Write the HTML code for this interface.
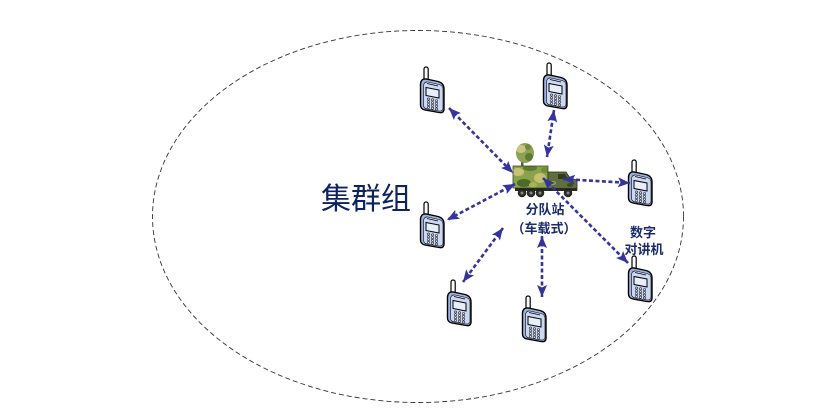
<!DOCTYPE html>
<html>
<head>
<meta charset="utf-8">
<style>
  html, body { margin: 0; padding: 0; background: #ffffff; }
  body { width: 832px; height: 410px; overflow: hidden; }
  svg { display: block; }
  .cjk { font-family: "Liberation Sans", "Noto Sans CJK SC", sans-serif; }
</style>
</head>
<body>
<svg width="832" height="410" viewBox="0 0 832 410" xmlns="http://www.w3.org/2000/svg">
  <defs>
    <marker id="ah" viewBox="0 0 12 10" refX="12" refY="5" markerWidth="12" markerHeight="10" markerUnits="userSpaceOnUse" orient="auto-start-reverse">
      <path d="M0,0 L12,5 L0,10 L2.5,5 Z" fill="#34349c"/>
    </marker>

    <symbol id="ph" viewBox="0 0 28 48">
      <rect x="6" y="1" width="4.2" height="15" rx="2" fill="#ffffff" stroke="#000" stroke-width="1.2"/>
      <path d="M2.5,19 Q2.5,12.5 8,13 L20,15.5 Q26,17 26,23 L26,43 Q26,47.5 21,46.5 L7,44 Q2.5,43 2.5,39 Z" fill="#9fb4e0" stroke="#000" stroke-width="1.4"/>
      <path d="M5.5,19.5 Q6,15.5 10,16 L21,18.5 Q25,19.5 25,23.5 L25,42 Q25,45.5 21,45 L9.5,43 Q5.5,42.5 5.5,39 Z" fill="#cbd8f3" stroke="#000" stroke-width="0.6"/>
      <path d="M9,17.5 L20,20" stroke="#000" stroke-width="0.7"/>
      <path d="M8,21.5 L21,24 L21,32 L8,29.5 Z" fill="#e8eef9" stroke="#000" stroke-width="1"/>
      <g fill="#dfe6f5" stroke="#222" stroke-width="0.6">
        <circle cx="10.5" cy="33" r="1.1"/><circle cx="14.5" cy="33.8" r="1.1"/><circle cx="18.5" cy="34.6" r="1.1"/>
        <circle cx="10.5" cy="35.8" r="1.1"/><circle cx="14.5" cy="36.6" r="1.1"/><circle cx="18.5" cy="37.4" r="1.1"/>
        <circle cx="10.5" cy="38.6" r="1.1"/><circle cx="14.5" cy="39.4" r="1.1"/><circle cx="18.5" cy="40.2" r="1.1"/>
        <circle cx="10.5" cy="41.4" r="1.1"/><circle cx="14.5" cy="42.2" r="1.1"/><circle cx="18.5" cy="43" r="1.1"/>
      </g>
    </symbol>

    <clipPath id="boxclip"><rect x="513" y="166" width="35" height="22"/></clipPath>
    <clipPath id="dishclip"><ellipse cx="525" cy="153" rx="9" ry="10"/></clipPath>
  </defs>

  <!-- dashed group ellipse -->
  <ellipse cx="418" cy="216.5" rx="265.5" ry="186" fill="none" stroke="#333" stroke-width="0.9" stroke-dasharray="5,3"/>

  <!-- big label -->
  <text x="321" y="209" class="cjk" font-size="30" fill="#0d2260">集群组</text>

  <!-- truck -->
  <g>
    <rect x="521" y="160" width="2.5" height="8" fill="#5a5a4a"/>
    <ellipse cx="525" cy="153" rx="9" ry="10" fill="#8da255"/>
    <g clip-path="url(#dishclip)">
      <ellipse cx="521" cy="149" rx="5" ry="4" fill="#c9c682"/>
      <ellipse cx="529" cy="157" rx="4" ry="4" fill="#5f7a35"/>
      <ellipse cx="528" cy="147" rx="3" ry="3" fill="#6f8a3e"/>
    </g>
    <rect x="513" y="166" width="35" height="22" fill="#8aa24a"/>
    <g clip-path="url(#boxclip)">
      <ellipse cx="518" cy="172" rx="6" ry="4" fill="#c8c276"/>
      <ellipse cx="530" cy="168" rx="7" ry="3" fill="#5c7a30"/>
      <ellipse cx="540" cy="178" rx="6" ry="5" fill="#c5c070"/>
      <ellipse cx="524" cy="183" rx="7" ry="4" fill="#4d6a28"/>
      <ellipse cx="545" cy="170" rx="4" ry="3" fill="#6e8c3a"/>
      <ellipse cx="533" cy="185" rx="4" ry="3" fill="#a8b45a"/>
    </g>
    <rect x="513" y="166" width="35" height="22" fill="none" stroke="#3d4d22" stroke-width="0.8"/>
    <path d="M548,172 L566,172 L570,178 L577,180 L577,190 L548,190 Z" fill="#5e6e3c" stroke="#2c3319" stroke-width="0.8"/>
    <path d="M558,174 L565,174 L568,179 L558,179 Z" fill="#2f3a22"/>
    <ellipse cx="553" cy="183" rx="3" ry="2" fill="#9aa35a"/>
    <ellipse cx="570" cy="185" rx="3" ry="2" fill="#3d4a24"/>
    <rect x="515" y="188" width="62" height="3" fill="#2a2a22"/>
    <g fill="#2b2b2b" stroke="#111" stroke-width="0.5">
      <circle cx="522" cy="193" r="4"/>
      <circle cx="531" cy="193" r="4"/>
      <circle cx="540" cy="193" r="4"/>
      <circle cx="568" cy="193" r="4"/>
    </g>
    <g fill="#8a8a7a">
      <circle cx="522" cy="193" r="1.5"/>
      <circle cx="531" cy="193" r="1.5"/>
      <circle cx="540" cy="193" r="1.5"/>
      <circle cx="568" cy="193" r="1.5"/>
    </g>
  </g>

  <!-- phones -->
  <use href="#ph" x="418" y="66" width="28" height="48"/>
  <use href="#ph" x="541" y="62" width="28" height="48"/>
  <use href="#ph" x="626" y="159" width="28" height="48"/>
  <use href="#ph" x="418" y="201" width="28" height="48"/>
  <use href="#ph" x="445" y="279" width="28" height="48"/>
  <use href="#ph" x="520" y="295" width="28" height="48"/>
  <use href="#ph" x="626" y="255" width="28" height="48"/>

  <!-- dotted double arrows -->
  <g stroke="#34349c" stroke-width="2.6" stroke-dasharray="4,2.5" fill="none" marker-start="url(#ah)" marker-end="url(#ah)">
    <line x1="449" y1="108" x2="513" y2="173"/>
    <line x1="554" y1="110" x2="547" y2="157"/>
    <line x1="563" y1="179" x2="630" y2="183"/>
    <line x1="515" y1="184" x2="447" y2="220"/>
    <line x1="543" y1="178" x2="628" y2="263"/>
    <line x1="503" y1="228" x2="463" y2="282"/>
    <line x1="542" y1="236" x2="542" y2="297"/>
  </g>

  <!-- labels -->
  <g class="cjk" font-size="13" font-weight="bold" fill="#1b2b6b" text-anchor="middle">
    <text x="545" y="214">分队站</text>
    <text x="544" y="233">（车载式）</text>
    <text x="643" y="237">数字</text>
    <text x="644" y="254">对讲机</text>
  </g>
</svg>
</body>
</html>
